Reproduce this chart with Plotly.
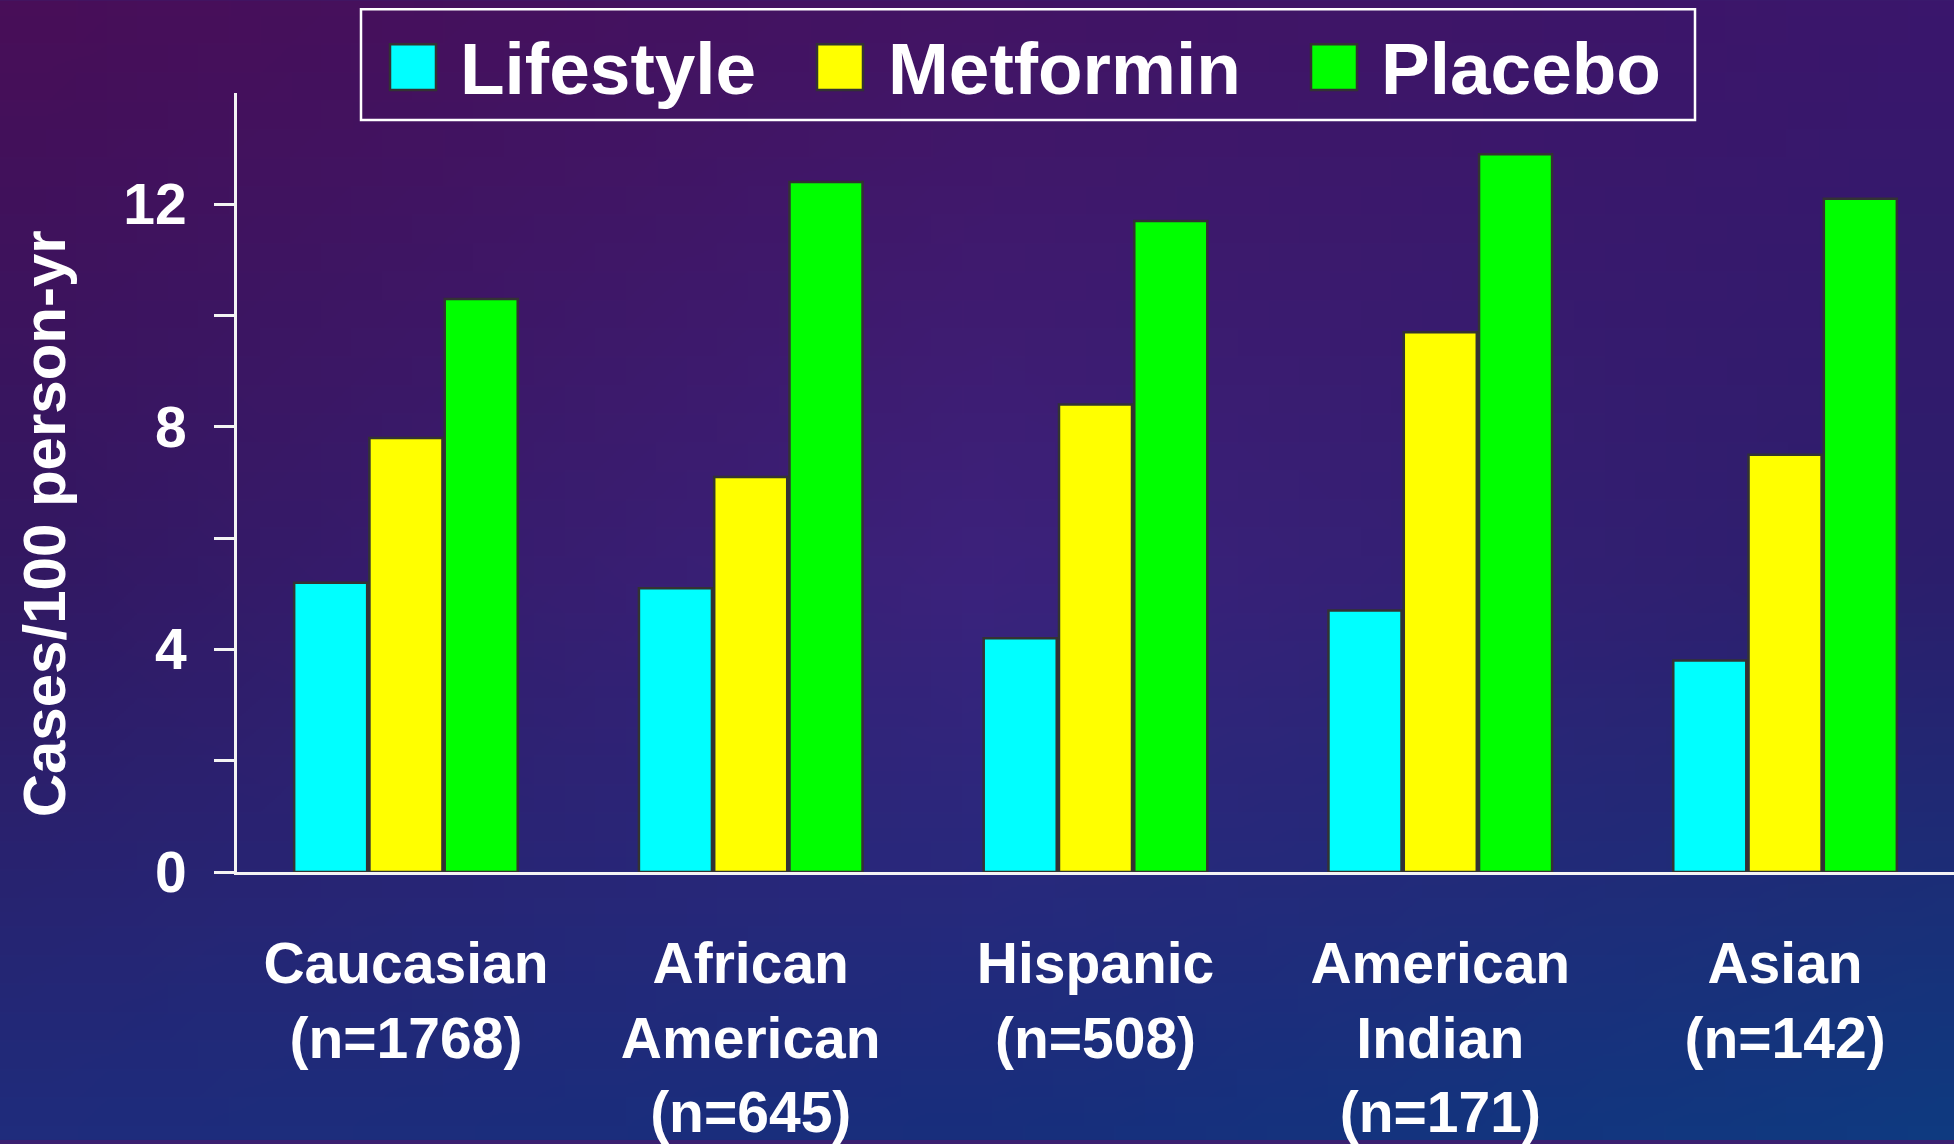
import base64, struct, zlib
import plotly.graph_objects as go

# ---------------- data ----------------
categories = ["Caucasian<br>(n=1768)", "African<br>American<br>(n=645)", "Hispanic<br>(n=508)",
              "American<br>Indian<br>(n=171)", "Asian<br>(n=142)"]
lifestyle = [5.2, 5.1, 4.2, 4.7, 3.8]
metformin = [7.8, 7.1, 8.4, 9.7, 7.5]
placebo = [10.3, 12.4, 11.7, 12.9, 12.1]
series_names = ["Lifestyle", "Metformin", "Placebo"]
series_colors = ["#00FFFF", "#FFFF00", "#00FF00"]
y_tickvals = [0, 2, 4, 6, 8, 10, 12]
y_ticktext = ["0", "", "4", "", "8", "", "12"]
y_title = "Cases/100 person-yr"

# ---------------- geometry ----------------
W, H = 1954, 1144
ML, MR, MT, MB = 237, 0, 93, 269
PW, PH = W - ML - MR, H - MT - MB


def px_x(x):
    return (x - ML) / PW


def px_y(y):
    return (H - MB - y) / PH


# ---------------- background gradient image ----------------
def make_png(w, h, pix):
    raw = b"".join(b"\x00" + bytes([c for p in row for c in p]) for row in pix)

    def chunk(t, d):
        c = struct.pack(">I", len(d)) + t + d
        return c + struct.pack(">I", zlib.crc32(t + d) & 0xffffffff)
    png = b"\x89PNG\r\n\x1a\n" + chunk(b"IHDR", struct.pack(">IIBBBBB", w, h, 8, 2, 0, 0, 0))
    png += chunk(b"IDAT", zlib.compress(raw, 9)) + chunk(b"IEND", b"")
    return "data:image/png;base64," + base64.b64encode(png).decode()


grid = [[(72, 14, 88), (66, 20, 100), (58, 22, 108)],
        [(50, 24, 98), (60, 34, 124), (44, 30, 108)],
        [(31, 44, 124), (24, 46, 124), (15, 58, 128)]]
GW, GH = 64, 40
pix = []
for j in range(GH):
    fy = j / (GH - 1) * 2
    r0 = min(int(fy), 1)
    ty = fy - r0
    row = []
    for i in range(GW):
        fx = i / (GW - 1) * 2
        c0 = min(int(fx), 1)
        tx = fx - c0
        col = []
        for k in range(3):
            a = grid[r0][c0][k] * (1 - tx) + grid[r0][c0 + 1][k] * tx
            b = grid[r0 + 1][c0][k] * (1 - tx) + grid[r0 + 1][c0 + 1][k] * tx
            col.append(int(round(a * (1 - ty) + b * ty)))
        row.append(tuple(col))
    pix.append(row)
bg_src = make_png(GW, GH, pix)

FONT = "Liberation Sans, Arial, sans-serif"

fig = go.Figure()
for name, vals, color in zip(series_names, [lifestyle, metformin, placebo], series_colors):
    fig.add_trace(go.Bar(x=categories, y=vals, name=name, marker_color=color,
                         marker_line_color="#333333", marker_line_width=2.5,
                         showlegend=False))

shapes = []
annotations = []
# legend box
shapes.append(dict(type="rect", xref="paper", yref="paper",
                   x0=px_x(361), x1=px_x(1695), y0=px_y(120), y1=px_y(9),
                   line=dict(color="white", width=2.5), fillcolor="rgba(0,0,0,0)"))
leg_sq = [390, 817, 1311]
leg_tx = [462, 890, 1383]
for name, color, sx, tx in zip(series_names, series_colors, leg_sq, leg_tx):
    shapes.append(dict(type="rect", xref="paper", yref="paper",
                       x0=px_x(sx), x1=px_x(sx + 46), y0=px_y(90), y1=px_y(44),
                       line=dict(color="#333333", width=2.5), fillcolor=color))
    annotations.append(dict(text=name, xref="paper", yref="paper", x=px_x(tx - 4), y=px_y(68),
                            xanchor="left", yanchor="middle", showarrow=False,
                            font=dict(family=FONT, size=73, color="white", weight="bold")))
annotations.append(dict(text=y_title, xref="paper", yref="paper", x=px_x(44), y=px_y(526),
                        xanchor="center", yanchor="middle", textangle=-90, showarrow=False,
                        font=dict(family=FONT, size=60, color="white", weight="bold")))

fig.update_layout(
    width=W, height=H,
    margin=dict(l=ML, r=MR, t=MT, b=MB, pad=0),
    paper_bgcolor="#3a2070", plot_bgcolor="rgba(0,0,0,0)",
    barmode="group", bargap=0.345, bargroupgap=0.03,
    font=dict(family=FONT, color="white", weight="bold"),
    shapes=shapes, annotations=annotations,
    images=[dict(source=bg_src, xref="paper", yref="paper", x=px_x(0), y=px_y(0),
                 sizex=W / PW, sizey=H / PH, sizing="stretch", layer="below",
                 xanchor="left", yanchor="top")],
    xaxis=dict(range=[-0.49, 4.49], showline=True, linecolor="#f4f4f4", linewidth=3,
               ticks="", showgrid=False, zeroline=False,
               tickfont=dict(family=FONT, size=57, color="white", weight="bold"),
               ticklabelstandoff=40),
    yaxis=dict(range=[0, 14], showline=True, linecolor="#f4f4f4", linewidth=3,
               ticks="outside", ticklen=20, tickwidth=3, tickcolor="#f4f4f4",
               tickvals=y_tickvals, ticktext=y_ticktext, showgrid=False, zeroline=False,
               ticklabelstandoff=16,
               tickfont=dict(family=FONT, size=57, color="white", weight="bold")),
)
fig.write_html("out.html", config={"displayModeBar": False},
               post_script="document.body.style.margin='0';document.body.style.overflow='hidden';")
